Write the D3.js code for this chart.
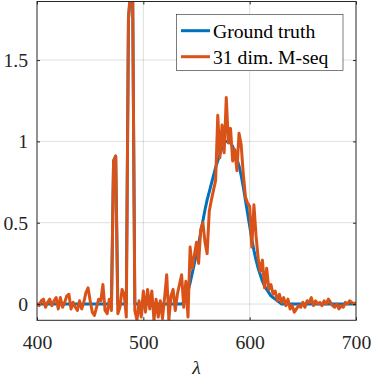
<!DOCTYPE html>
<html lang="en">
<head>
    <meta charset="UTF-8">
    <title>Spectrum reconstruction</title>
    <script src="https://d3js.org/d3.v7.min.js"></script>
    <style>
        body {
            margin: 0;
            background: white;
        }
        #chart svg {
            display: block;
        }
        #chart svg text {
            font-family: "Liberation Serif", "Tinos", "Nimbus Roman", "Times New Roman", "DejaVu Serif", serif !important;
        }
    </style>
</head>
<body>
    <div id="chart"></div>

    <script>
        // wavelength grid (nm)
        const wavelength = [
            400,402,404,406,408,410,412,414,416,418,
            420,422,424,426,428,430,432,434,436,438,
            440,442,444,446,448,450,452,454,456,458,
            460,462,464,466,468,470,472,474,476,478,
            480,482,484,486,488,490,492,494,496,498,
            500,502,504,506,508,510,512,514,516,518,
            520,522,524,526,528,530,532,534,536,538,
            540,542,544,546,548,550,552,554,556,558,
            560,562,564,566,568,570,572,574,576,578,
            580,582,584,586,588,590,592,594,596,598,
            600,602,604,606,608,610,612,614,616,618,
            620,622,624,626,628,630,632,634,636,638,
            640,642,644,646,648,650,652,654,656,658,
            660,662,664,666,668,670,672,674,676,678,
            680,682,684,686,688,690,692,694,696,698,
            700
        ];

        const groundTruth = [
            0,0,0,0,0,0,0,0,0,0,
            0,0,0,0,0,0,0,0,0,0,
            0,0,0,0,0,0,0,0,0,0,
            0,0,0,0,0,0,0.88,0.91,0,0,
            0,0,0,1.75,1.92,1.86,0,0,0,0,
            0,0,0,0,0,0,0,0,0,0,
            0,0,0,0,0,0,0,0,0,0.01,
            0.04,0.08,0.13,0.19,0.25,0.31,0.37,0.44,0.51,0.58,
            0.64,0.69,0.74,0.79,0.84,0.88,0.92,0.96,0.99,1.00,
            1.00,0.99,0.97,0.93,0.89,0.85,0.79,0.72,0.64,0.56,
            0.48,0.40,0.33,0.27,0.22,0.18,0.14,0.11,0.09,0.07,
            0.05,0.04,0.03,0.02,0.01,0,0,0,0,0,
            0,0,0,0,0,0,0,0,0,0,
            0,0,0,0,0,0,0,0,0,0,
            0,0,0,0,0,0,0,0,0,0,
            0
        ];

        const mseq = [
            0.00,-0.01,0.02,0.03,-0.02,0.01,0.03,-0.01,0.02,0.04,
            -0.03,0.04,-0.02,0.01,0.05,0.06,-0.03,0.01,-0.02,-0.04,
            0.02,-0.03,0.01,0.07,0.10,0.02,-0.05,-0.07,-0.02,0.03,
            0.02,0.12,-0.04,-0.06,0.03,-0.04,0.88,0.91,-0.06,-0.02,
            0.09,0.06,-0.08,1.75,1.95,1.88,-0.04,-0.10,0.02,-0.08,
            0.08,-0.05,0.09,-0.03,0.08,-0.10,0.03,-0.08,0.02,-0.09,
            0.04,0.18,-0.10,0.05,0.09,-0.04,0.06,0.12,0.18,-0.02,
            0.14,-0.08,0.35,0.22,0.30,0.38,0.25,0.46,0.50,0.38,
            0.31,0.57,0.64,0.70,0.76,1.16,0.90,1.10,0.93,1.27,
            0.99,1.08,0.88,0.95,0.82,1.05,0.98,0.80,0.66,0.62,
            0.60,0.35,0.61,0.42,0.28,0.20,0.27,0.10,0.22,0.09,
            0.12,0.06,0.08,0.02,0.06,0.01,0.04,-0.01,0.03,-0.03,
            -0.01,-0.05,-0.03,-0.01,-0.02,0.01,-0.02,0.02,0.01,0.04,
            -0.01,0.02,0.00,0.01,-0.01,0.02,0.00,0.03,0.01,-0.01,
            -0.02,0.00,-0.03,-0.01,-0.02,0.01,0.00,0.02,0.01,0.00,
            0.01
        ];

        const xTicks = [400, 500, 600, 700];
        const yTicks = [0, 0.5, 1, 1.5];
        const yTickLabels = ['0', '0.5', '1', '1.5'];
        const seriesNames = ['Ground truth', '31 dim. M-seq'];
        const seriesColors = ['#0072BD', '#D95319'];

        const width = 374, height = 379;
        const plot = { left: 37, right: 356, top: 1.5, bottom: 320.3 };
        const axisColor = '#262626';
        const fontSize = '19.7px';

        const svg = d3.select('#chart')
            .append('svg')
            .attr('width', width)
            .attr('height', height);

        const x = d3.scaleLinear().domain([400, 700]).range([plot.left, plot.right]);
        const y = d3.scaleLinear().domain([-0.1, 1.86]).range([plot.bottom, plot.top]);

        // grid
        svg.append('g').selectAll('line')
            .data(xTicks.slice(1, -1))
            .enter().append('line')
            .attr('x1', d => x(d)).attr('x2', d => x(d))
            .attr('y1', plot.top).attr('y2', plot.bottom)
            .attr('stroke', axisColor).attr('stroke-opacity', 0.15);
        svg.append('g').selectAll('line')
            .data(yTicks)
            .enter().append('line')
            .attr('x1', plot.left).attr('x2', plot.right)
            .attr('y1', d => y(d)).attr('y2', d => y(d))
            .attr('stroke', axisColor).attr('stroke-opacity', 0.15);

        // lines, clipped to the axes
        svg.append('clipPath').attr('id', 'clip')
            .append('rect')
            .attr('x', plot.left).attr('y', plot.top)
            .attr('width', plot.right - plot.left)
            .attr('height', plot.bottom - plot.top);

        const line = d3.line()
            .x((d, i) => x(wavelength[i]))
            .y(d => y(d));

        const lines = svg.append('g').attr('clip-path', 'url(#clip)');
        [groundTruth, mseq].forEach((series, k) => {
            lines.append('path')
                .attr('d', line(series))
                .attr('fill', 'none')
                .attr('stroke', seriesColors[k])
                .attr('stroke-width', 3)
                .attr('stroke-linejoin', 'round');
        });

        // axes (ticks pointing inward, box on)
        const styleAxis = g => {
            g.attr('font-family', null).attr('font-size', null);
            g.select('.domain').remove();
            g.selectAll('line').attr('stroke', axisColor);
            g.selectAll('text')
                .attr('fill', axisColor)
                .style('font-size', fontSize);
        };

        svg.append('g')
            .attr('transform', `translate(0,${plot.bottom})`)
            .call(d3.axisBottom(x).tickValues(xTicks).tickSize(-3).tickSizeOuter(0).tickFormat(d3.format('d')))
            .call(styleAxis)
            .call(g => g.selectAll('text').attr('y', 28.7).attr('dy', 0));

        svg.append('g')
            .attr('transform', `translate(0,${plot.top})`)
            .call(d3.axisTop(x).tickValues(xTicks).tickSize(-3).tickSizeOuter(0).tickFormat(''))
            .call(styleAxis);

        svg.append('g')
            .attr('transform', `translate(${plot.left},0)`)
            .call(d3.axisLeft(y).tickValues(yTicks).tickSize(-3).tickSizeOuter(0).tickPadding(9)
                .tickFormat((d, i) => yTickLabels[i]))
            .call(styleAxis);

        svg.append('g')
            .attr('transform', `translate(${plot.right},0)`)
            .call(d3.axisRight(y).tickValues(yTicks).tickSize(-3).tickSizeOuter(0).tickFormat(''))
            .call(styleAxis);

        svg.append('rect')
            .attr('x', plot.left).attr('y', plot.top)
            .attr('width', plot.right - plot.left)
            .attr('height', plot.bottom - plot.top)
            .attr('fill', 'none')
            .attr('stroke', axisColor)
            .attr('stroke-width', 1);

        // x label
        svg.append('text')
            .attr('x', (plot.left + plot.right) / 2)
            .attr('y', 374)
            .attr('text-anchor', 'middle')
            .attr('fill', axisColor)
            .style('font-size', fontSize)
            .style('font-style', 'italic')
            .text('λ');

        // legend
        const legend = svg.append('g');
        legend.append('rect')
            .attr('x', 176.5).attr('y', 14.5)
            .attr('width', 166.5).attr('height', 56)
            .attr('fill', 'white')
            .attr('stroke', axisColor)
            .attr('stroke-width', 0.6);

        seriesNames.forEach((name, k) => {
            const cy = 30.7 + k * 26;
            legend.append('line')
                .attr('x1', 181).attr('x2', 210)
                .attr('y1', cy).attr('y2', cy)
                .attr('stroke', seriesColors[k])
                .attr('stroke-width', 3);
            legend.append('text')
                .attr('x', 213)
                .attr('y', cy + 7.5)
                .attr('fill', 'black')
                .style('font-size', fontSize)
                .text(name);
        });
    </script>
</body>
</html>
